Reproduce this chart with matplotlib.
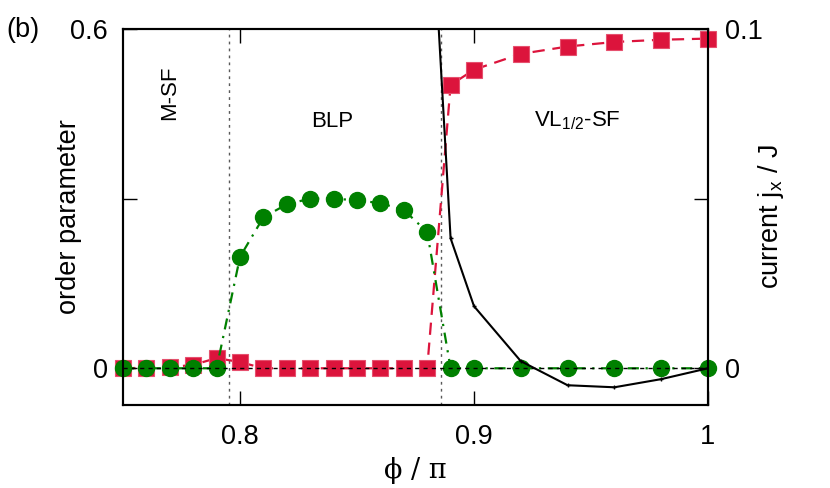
import numpy as np
import matplotlib.pyplot as plt

plt.rcParams['font.family'] = ['Liberation Sans', 'DejaVu Sans']
plt.rcParams['mathtext.fontset'] = 'custom'
plt.rcParams['mathtext.rm'] = 'Liberation Sans'
plt.rcParams['mathtext.it'] = 'Liberation Sans'

# order parameters (left axis)
phi_blp = [0.75, 0.76, 0.77, 0.78, 0.79, 0.80, 0.81, 0.82, 0.83, 0.84, 0.85,
           0.86, 0.87, 0.88, 0.89, 0.90, 0.92, 0.94, 0.96, 0.98, 1.00]
blp = [0, 0, 0, 0, 0, 0.197, 0.267, 0.290, 0.300, 0.300, 0.297,
       0.292, 0.280, 0.241, 0, 0, 0, 0, 0, 0, 0]

phi_vl = [0.75, 0.76, 0.77, 0.78, 0.79, 0.80, 0.81, 0.82, 0.83, 0.84, 0.85,
          0.86, 0.87, 0.88, 0.89, 0.90, 0.92, 0.94, 0.96, 0.98, 1.00]
vl = [0, 0.001, 0.002, 0.006, 0.018, 0.011, 0, 0, 0, 0, 0,
      0, 0, 0, 0.501, 0.528, 0.556, 0.569, 0.577, 0.581, 0.583]

# current (right axis)
phi_cur = [0.88, 0.89, 0.90, 0.92, 0.94, 0.96, 0.98, 1.00]
cur = [0.16, 0.0383, 0.0183, 0.0021, -0.0050, -0.0056, -0.0032, 0]

# phase boundaries
bounds = [0.7955, 0.8858]

fs = 19.5
fig = plt.figure(figsize=(8.3, 4.88), dpi=100)
ax = fig.add_axes([0.1482, 0.170, 0.7048, 0.7706])
ax2 = ax.twinx()

for b in bounds:
    ax.axvline(b, color='0.35', lw=1, ls=(0, (2, 3)), zorder=1)

ax.plot(phi_vl, vl, color='#DC143C', ls=(0, (5.5, 3.5)), lw=1.6, marker='s',
        ms=11.5, mec='#E6506E', mew=0.8, clip_on=False, zorder=3)
ax.plot(phi_blp, blp, color='#008000', ls=(0, (5, 3, 1, 3)), lw=1.6, marker='o',
        ms=11.5, clip_on=False, zorder=4)

ax2.plot(phi_cur, cur, color='black', lw=1.5, marker='+', ms=3, mew=1)
ax2.axhline(0, color='black', lw=1, ls=(0, (3, 3)))

ax.set_xlim(0.75, 1.0)
ax.set_ylim(-0.065, 0.6)
ax2.set_ylim(-0.065 / 6, 0.1)

ax.set_xticks([0.8, 0.9, 1.0])
ax.set_xticklabels(['0.8', '0.9', '1'])
ax.set_yticks([0, 0.3, 0.6])
ax.set_yticklabels(['0', '', '0.6'])
ax2.set_yticks([0, 0.05, 0.1])
ax2.set_yticklabels(['0', '', '0.1'])

ax.tick_params(axis='x', direction='in', length=10, width=1, labelsize=fs, pad=14, top=True)
ax.tick_params(axis='y', direction='in', length=10, width=1, labelsize=fs, pad=11)
ax2.tick_params(axis='y', direction='in', length=10, width=1, labelsize=fs, pad=12)
for a in (ax, ax2):
    for s in a.spines.values():
        s.set_linewidth(1.5)

ax.set_ylabel('order parameter', fontsize=fs, labelpad=-9)
ax2.set_ylabel('current j$_\\mathrm{x}$ / J', fontsize=fs, labelpad=-5)
ax.set_xlabel('ϕ / π', fontsize=fs, family=['DejaVu Serif'], labelpad=5)

ax.text(0.770, 0.487, 'M-SF', rotation=90, fontsize=16, ha='center', va='center')
ax.text(0.8393, 0.437, 'BLP', fontsize=16, ha='center', va='center')
ax.text(0.944, 0.437, 'VL$_{1/2}$-SF', fontsize=16, ha='center', va='center')
fig.text(0.008, 0.9385, '(b)', fontsize=fs, ha='left', va='center')

fig.savefig('out.png', dpi=100)
